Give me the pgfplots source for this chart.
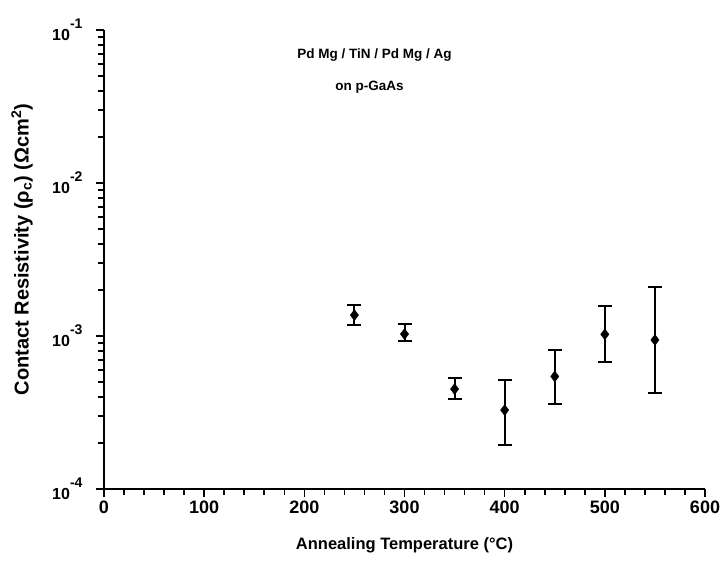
\documentclass[border=0pt]{standalone}
\usepackage{fontspec}
\setmainfont{Liberation Sans}
\usepackage{pgfplots}
\pgfplotsset{compat=1.18}
\pgfplotstableread{
x y ep em
250 1.37e-3 0.22e-3 0.195e-3
300 1.03e-3 0.16e-3 0.107e-3
350 4.5e-4 0.85e-4 0.62e-4
400 3.28e-4 1.87e-4 1.33e-4
450 5.44e-4 2.65e-4 1.83e-4
500 1.026e-3 0.554e-3 0.347e-3
550 9.42e-4 1.158e-3 0.519e-3
}\datatable
\newcommand{\tl}[1]{\fontsize{16}{16}\selectfont\bfseries 10\raisebox{0.75em}{\fontsize{14}{14}\selectfont\bfseries #1}}
\begin{document}
\begin{tikzpicture}
\useasboundingbox (-104pt,-76pt) rectangle (623pt,489pt);
\begin{axis}[
  at={(0pt,0pt)}, anchor=south west, scale only axis,
  width=601pt, height=459pt,
  ymode=log, xmin=0, xmax=600, ymin=1e-4, ymax=1e-1,
  axis lines*=left, axis line style={line width=2.2pt},
  xtick={0,100,...,600}, minor x tick num=4,
  ytick={1e-4,1e-3,1e-2,1e-1},
  yticklabels={\tl{-4},\tl{-3},\tl{-2},\tl{-1}},
  tick align=outside, tick style={line width=1.6pt,black},
  major tick length=8pt, minor tick length=6pt,
  /pgf/number format/assume math mode=true,
  xticklabel style={font=\fontsize{18}{18}\selectfont\bfseries},
  yticklabel style={xshift=-10pt},
  xlabel={Annealing Temperature (°C)},
  ylabel={Contact Resistivity (ρ\textsubscript{c}) (Ωcm\textsuperscript{2})},
  xlabel style={at={(rel axis cs:0.5,0)}, anchor=center, yshift=-56pt, font=\fontsize{16.5}{16.5}\selectfont\bfseries},
  ylabel style={at={([xshift=-82pt,yshift=10pt]rel axis cs:0,0.5)}, anchor=center, font=\fontsize{20}{20}\selectfont\bfseries},
  clip=false,
]
\addplot[only marks, black, mark=diamond*, mark size=5.5pt,
  error bars/.cd, y dir=both, y explicit,
  error bar style={line width=2pt},
  error mark options={rotate=90, mark size=7pt, line width=2pt}]
  table[x=x, y=y, y error plus=ep, y error minus=em] {\datatable};
\node[font=\fontsize{13.5}{13.5}\selectfont\bfseries] at (axis cs:270,0.0687) {Pd Mg / TiN / Pd Mg / Ag};
\node[font=\fontsize{13.5}{13.5}\selectfont\bfseries] at (axis cs:265,0.0424) {on p-GaAs};
\end{axis}
\end{tikzpicture}
\end{document}
